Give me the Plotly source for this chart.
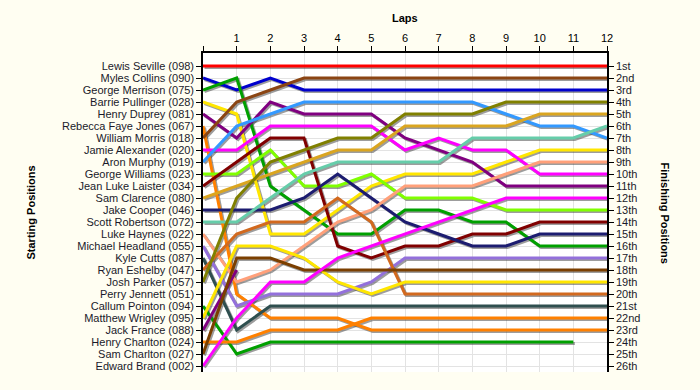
import plotly.graph_objects as go

laps = list(range(0, 13))

drivers = [
    "Lewis Seville (098)", "Myles Collins (090)", "George Merrison (075)",
    "Barrie Pullinger (028)", "Henry Duprey (081)", "Rebecca Faye Jones (067)",
    "William Morris (018)", "Jamie Alexander (020)", "Aron Murphy (019)",
    "George Williams (023)", "Jean Luke Laister (034)", "Sam Clarence (080)",
    "Jake Cooper (046)", "Scott Robertson (072)", "Luke Haynes (022)",
    "Michael Headland (055)", "Kyle Cutts (087)", "Ryan Eshelby (047)",
    "Josh Parker (057)", "Perry Jennett (051)", "Callum Pointon (094)",
    "Matthew Wrigley (095)", "Jack France (088)", "Henry Charlton (024)",
    "Sam Charlton (027)", "Edward Brand (002)",
]

finish_labels = ["1st", "2nd", "3rd"] + [f"{i}th" for i in range(4, 21)] + \
    ["21st", "22nd", "23rd", "24th", "25th", "26th"]

N = None
positions = [
    [1, 1, 1, 1, 1, 1, 1, 1, 1, 1, 1, 1, 1],
    [2, 3, 2, 3, 3, 3, 3, 3, 3, 3, 3, 3, 3],
    [3, 2, 11, 13, 15, 15, 13, 13, 14, 14, 16, 16, 16],
    [4, 5, 15, 15, 13, 11, 10, 10, 10, 9, 8, 8, 8],
    [5, 7, 4, 5, 5, 5, 7, 8, 9, 11, 11, 11, 11],
    [6, 20, 22, 22, 22, 23, 23, 23, 23, 23, 23, 23, 23],
    [7, 4, 3, 2, 2, 2, 2, 2, 2, 2, 2, 2, 2],
    [8, 8, 6, 6, 6, 6, 8, 7, 8, 8, 10, 10, 10],
    [9, 6, 5, 4, 4, 4, 4, 4, 4, 5, 6, 6, 7],
    [10, 10, 8, 11, 11, 10, 12, 12, 12, 13, 13, 13, 13],
    [11, 9, 7, 7, 16, 17, 16, 16, 15, 15, 14, 14, 14],
    [12, 11, 10, 9, 8, 8, 6, 6, 6, 6, 5, 5, 5],
    [13, 13, 13, 12, 10, 12, 14, 15, 16, 16, 15, 15, 15],
    [14, 14, 12, 10, 9, 9, 9, 9, 7, 7, 7, 7, 6],
    [15, 19, 18, 16, 14, 13, 11, 11, 11, 10, 9, 9, 9],
    [16, 21, 20, 20, 20, 19, 17, 17, 17, 17, 17, 17, 17],
    [17, 23, 21, 21, 21, 21, 21, 21, 21, 21, 21, 21, 21],
    [18, 15, 14, 14, 12, 14, 20, 20, 20, 20, 20, 20, 20],
    [19, 12, 9, 8, 7, 7, 5, 5, 5, 4, 4, 4, 4],
    [N, N, N, N, N, N, N, N, N, N, N, N, N],
    [21, 25, 24, 24, 24, 24, 24, 24, 24, 24, 24, 24, N],
    [22, 16, 16, 17, 19, 20, 19, 19, 19, 19, 19, 19, 19],
    [23, 18, N, N, N, N, N, N, N, N, N, N, N],
    [24, 24, 23, 23, 23, 22, 22, 22, 22, 22, 22, 22, 22],
    [25, 17, 17, 18, 18, 18, 18, 18, 18, 18, 18, 18, 18],
    [26, 22, 19, 19, 17, 16, 15, 14, 13, 12, 12, 12, 12],
]

colors = [
    "#FF0000", "#0000CD", "#00A000", "#FFE600", "#800080", "#FF8000",
    "#8B4513", "#FF00FF", "#3399FF", "#80FF00", "#800000", "#DAA520",
    "#1C1C70", "#66CDAA", "#FFA07A", "#9370DB", "#2F4F4F", "#D2691E",
    "#808000", "#0000CD", "#00A000", "#FFE600", "#800080", "#FF8000",
    "#7B3F00", "#FF00FF",
]

FONT = "Liberation Sans, Arial, sans-serif"
fig = go.Figure()

# shadow offsets (pixels converted to data units)
px_x = 12 / 404.0
px_y = (26.5 + 0.0833) / 319.0
sh = 1.5

for name, pos in zip(drivers, positions):
    xs = [l + sh * px_x for l, p in zip(laps, pos)]
    ys = [p + sh * px_y if p is not None else None for p in pos]
    fig.add_trace(go.Scatter(x=xs, y=ys, mode="lines",
                             line=dict(color="rgba(60,60,60,0.5)", width=3),
                             hoverinfo="skip", showlegend=False))

for name, pos, c in zip(drivers, positions, colors):
    fig.add_trace(go.Scatter(x=laps, y=pos, mode="lines", name=name,
                             line=dict(color=c, width=3), showlegend=False))

# invisible trace for right axis
fig.add_trace(go.Scatter(x=[0, 12], y=[1, 26], yaxis="y2", mode="lines",
                         line=dict(color="rgba(0,0,0,0)"), hoverinfo="skip",
                         showlegend=False))

yr = [26.5, -0.0833]
fig.update_layout(
    width=700, height=390,
    margin=dict(l=203, r=93, t=53, b=18, autoexpand=False),
    paper_bgcolor="#FFFEF2", plot_bgcolor="#FFFFFF",
    font=dict(family=FONT, size=11, color="#111111"),
    xaxis=dict(side="top", range=[0, 12], tickvals=laps,
               ticktext=[""] + [str(l) for l in laps[1:]],
               showgrid=True, gridcolor="#E3E3E3", gridwidth=1,
               zeroline=False, showline=True, linecolor="#000000", linewidth=1.5,
               ticks="outside", ticklen=5, tickcolor="#000000",
               tickfont=dict(size=11, color="#000000")),
    yaxis=dict(range=yr, tickvals=list(range(1, 27)), ticktext=drivers,
               showgrid=True, gridcolor="#E3E3E3", gridwidth=1, zeroline=False,
               showline=True, linecolor="#000000", linewidth=1.5,
               ticks="outside", ticklen=5, tickcolor="#000000",
               tickfont=dict(size=11, color="#1a1a2a")),
    yaxis2=dict(range=yr, overlaying="y", side="right",
                tickvals=list(range(1, 27)), ticktext=finish_labels,
                showgrid=False, zeroline=False, showline=True,
                linecolor="#000000", linewidth=1.5, ticks="outside",
                ticklen=5, tickcolor="#000000",
                tickfont=dict(size=11, color="#1a1a2a")),
    annotations=[
        dict(text="<b>Laps</b>", xref="paper", yref="paper", x=0.5,
             y=1 + 35 / 319, showarrow=False, xanchor="center",
             yanchor="middle", font=dict(size=11, color="#000000")),
        dict(text="<b>Starting Positions</b>", xref="paper", yref="paper",
             x=(30 - 203) / 404, y=0.5, textangle=-90, showarrow=False,
             xanchor="center", yanchor="middle",
             font=dict(size=11, color="#000000")),
        dict(text="<b>Finishing Positions</b>", xref="paper", yref="paper",
             x=(665 - 203) / 404, y=0.5, textangle=90, showarrow=False,
             xanchor="center", yanchor="middle",
             font=dict(size=11, color="#000000")),
    ],
)

fig.write_html("out.html",
               config={"displayModeBar": False},
               post_script="document.body.style.margin='0';"
                           "document.body.style.background='#FFFEF2';")
